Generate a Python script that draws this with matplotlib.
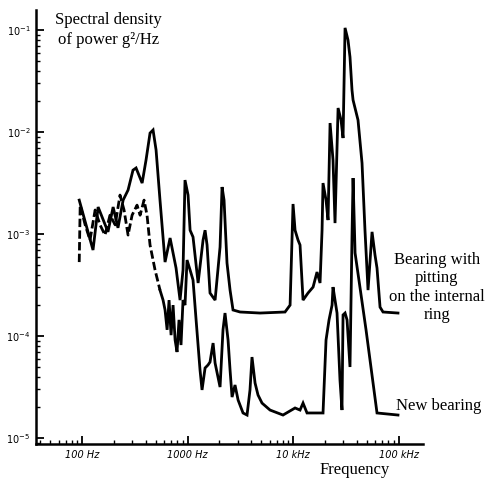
import matplotlib
matplotlib.use("Agg")
import matplotlib.pyplot as plt
from matplotlib.ticker import LogLocator, NullFormatter, FixedLocator

# ---- data ----
# Bearing with pitting on the internal ring (solid)
pit_freq = [94, 127, 142, 176, 197, 219, 245, 273, 304, 325, 371, 404, 441, 471, 503,
            548, 612, 683, 778, 849, 906, 946, 1011, 1057, 1127, 1259, 1403, 1466, 1531,
            1633, 1824, 2033, 2124, 2218, 2366, 2529, 2698, 3148, 4864, 8395, 9376, 10000,
            10450, 11150, 11650, 12440, 13870, 15490, 16880, 18030, 18840, 19240, 20550,
            21470, 22440, 23930, 25000, 26730, 28510, 29790, 31120, 33190, 34670, 36220,
            37070, 41300, 45080, 48080, 51400, 56100, 59840, 62520, 66800, 71290, 98800]
pit_psd = [0.00215, 0.000697, 0.00184, 0.00105, 0.00184, 0.00115, 0.00215, 0.00270,
           0.00423, 0.00444, 0.00316, 0.00531, 0.00977, 0.01047, 0.00667, 0.00215,
           0.000531, 0.000914, 0.000464, 0.000225, 0.000444, 0.00338, 0.00241, 0.00109,
           0.000935, 0.000331, 0.000873, 0.00109, 0.000780, 0.000264, 0.000225, 0.000746,
           0.00289, 0.00215, 0.000520, 0.000282, 0.000180, 0.000172, 0.000168, 0.000172,
           0.000201, 0.00197, 0.00109, 0.000873, 0.000780, 0.000225, 0.000264, 0.000302,
           0.000424, 0.000331, 0.00109, 0.00316, 0.00215, 0.00137, 0.01225, 0.00531,
           0.00128, 0.0172, 0.0131, 0.00873, 0.105, 0.0798, 0.0543, 0.0258, 0.0206,
           0.0131, 0.00496, 0.00109, 0.000282, 0.00105, 0.000622, 0.000464, 0.000192,
           0.000172, 0.000168]

# New bearing, low-frequency part drawn dashed
new_dash_freq = [94, 96, 107, 119, 133, 148, 165, 184, 206, 229, 250, 273, 298, 332,
                 355, 387, 413, 441, 492, 548]
new_dash_psd = [0.000531, 0.00192, 0.00123, 0.000873, 0.00172, 0.00123, 0.000977,
                0.00153, 0.00123, 0.00241, 0.00172, 0.000977, 0.00153, 0.00192,
                0.00153, 0.00215, 0.00153, 0.000780, 0.000444, 0.000282]

# New bearing, solid part
new_freq = [548, 586, 612, 640, 668, 698, 729, 762, 795, 830, 867, 906, 946, 989, 1057,
            1127, 1205, 1313, 1372, 1466, 1563, 1633, 1746, 1824, 2033, 2168, 2265, 2421,
            2529, 2642, 2818, 3013, 3357, 3664, 3908, 4083, 4365, 4656, 5082, 6053, 8035,
            10450, 11650, 12440, 13570, 19240, 20550, 21940, 23440, 23930, 25000, 26120,
            27860, 29110, 29790, 31120, 32510, 34670, 36220, 37070, 38730, 49200, 62520,
            98800]
new_psd = [0.000282, 0.000225, 0.000180, 0.000115, 0.000225, 0.000102, 0.000201,
           0.0000914, 0.0000697, 0.000144, 0.0000816, 0.000225, 0.000201, 0.000556,
           0.000444, 0.000354, 0.000144, 0.0000464, 0.0000296, 0.0000486, 0.0000520,
           0.0000556, 0.0000853, 0.0000543, 0.0000316, 0.000115, 0.000168, 0.0000914,
           0.0000464, 0.0000252, 0.0000331, 0.0000236, 0.0000176, 0.0000168, 0.0000296,
           0.0000622, 0.0000346, 0.0000264, 0.0000220, 0.0000188, 0.0000168, 0.0000197,
           0.0000188, 0.0000220, 0.0000176, 0.0000176, 0.0000914, 0.000144, 0.000201,
           0.000302, 0.000225, 0.000168, 0.0000371, 0.0000188, 0.000161, 0.000168,
           0.000144, 0.0000497, 0.000935, 0.00354, 0.000652, 0.000115, 0.0000176,
           0.0000168]

x_ticks = [100, 1000, 10000, 100000]
x_tick_labels = ["100 Hz", "1000 Hz", "10 kHz", "100 kHz"]
y_ticks = [1e-5, 1e-4, 1e-3, 1e-2, 1e-1]
y_tick_labels = [r"$10^{-5}$", r"$10^{-4}$", r"$10^{-3}$", r"$10^{-2}$", r"$10^{-1}$"]

# ---- figure ----
fig = plt.figure(figsize=(4.88, 4.79), dpi=100)
ax = fig.add_axes([0.0738, 0.073, 0.793, 0.906])

ax.plot(pit_freq, pit_psd, color="black", lw=2.0, solid_joinstyle="miter")
ax.plot(new_dash_freq, new_dash_psd, color="black", lw=2.0, ls=(0, (3, 1.2)))
ax.plot(new_freq, new_psd, color="black", lw=2.0, solid_joinstyle="miter")

ax.set_xscale("log")
ax.set_yscale("log")
ax.set_xlim(36.6, 170600)
ax.set_ylim(8.73e-6, 0.157)

for s in ["top", "right"]:
    ax.spines[s].set_visible(False)
for s in ["left", "bottom"]:
    ax.spines[s].set_linewidth(1.8)

ax.xaxis.set_major_locator(FixedLocator(x_ticks))
ax.set_xticklabels(x_tick_labels, fontsize=7, style="italic", family="DejaVu Sans")
ax.xaxis.set_minor_locator(LogLocator(base=10, subs=range(2, 10)))
ax.xaxis.set_minor_formatter(NullFormatter())
ax.yaxis.set_major_locator(FixedLocator(y_ticks))
ax.set_yticklabels(y_tick_labels, fontsize=7)
ax.yaxis.set_minor_locator(LogLocator(base=10, subs=range(2, 10)))
ax.yaxis.set_minor_formatter(NullFormatter())
ax.tick_params(which="major", direction="in", length=6, width=1.3, pad=4)
ax.tick_params(which="minor", direction="in", length=3, width=1.0)

serif = ["Liberation Serif", "DejaVu Serif"]
fig.text(0.222, 0.958, "Spectral density", ha="center", va="center", fontsize=12, family=serif)
fig.text(0.222, 0.916, "of power g²/Hz", ha="center", va="center", fontsize=12, family=serif)
fig.text(0.895, 0.40, "Bearing with\npitting\non the internal\nring", ha="center",
         va="center", fontsize=12, family=serif, linespacing=1.2)
fig.text(0.898, 0.152, "New bearing", ha="center", va="center", fontsize=12, family=serif)
fig.text(0.727, 0.019, "Frequency", ha="center", va="center", fontsize=12, family=serif)

fig.savefig("out.png", dpi=100, facecolor="white")
